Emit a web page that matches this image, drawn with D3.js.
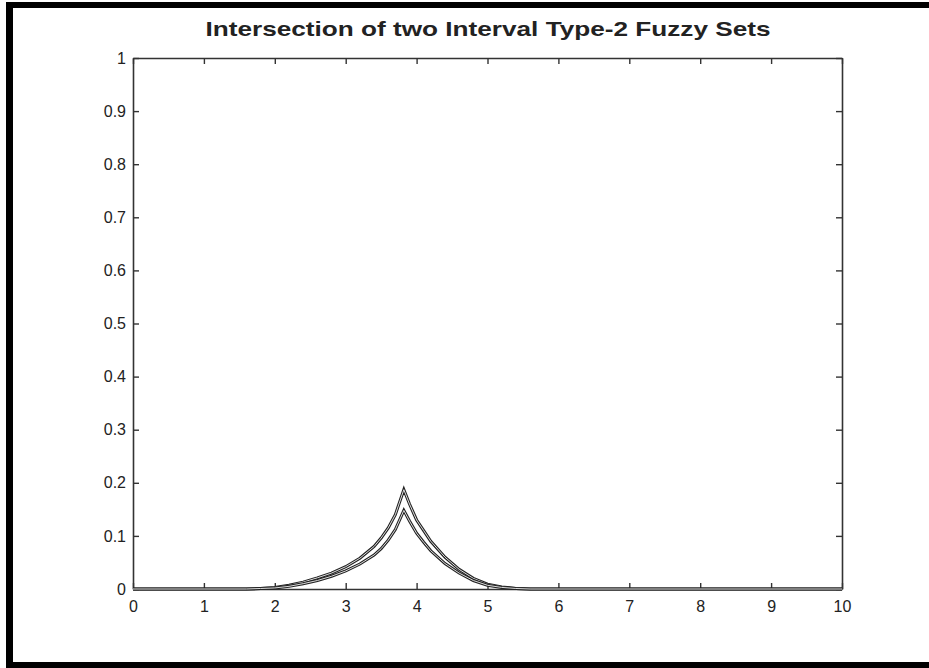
<!DOCTYPE html>
<html>
<head>
<meta charset="utf-8">
<script src="https://cdn.jsdelivr.net/npm/d3@7"></script>
<style>
  body { margin: 0; background: #fff; }
  text { font-family: "Liberation Sans", Arial, sans-serif; fill: #222; }
</style>
</head>
<body>
<div id="chart"></div>
<script>
// Values
const xs    = [0, 1.6, 1.8, 2.0, 2.2, 2.4, 2.6, 2.8, 3.0, 3.2, 3.4, 3.5, 3.6, 3.7, 3.82, 3.9, 4.0, 4.1, 4.2, 4.4, 4.6, 4.8, 5.0, 5.2, 5.4, 5.6, 10];
const upper = [0, 0, 0.001, 0.003, 0.007, 0.013, 0.021, 0.03, 0.042, 0.058, 0.08, 0.096, 0.115, 0.14, 0.187, 0.16, 0.13, 0.11, 0.09, 0.06, 0.037, 0.02, 0.009, 0.004, 0.001, 0, 0];
const lower = [0, 0, 0.001, 0.002, 0.005, 0.01, 0.016, 0.024, 0.034, 0.047, 0.064, 0.076, 0.092, 0.112, 0.148, 0.128, 0.105, 0.088, 0.072, 0.048, 0.03, 0.016, 0.007, 0.003, 0.001, 0, 0];
const xTicks = [0, 1, 2, 3, 4, 5, 6, 7, 8, 9, 10];
const yTicks = [0, 0.1, 0.2, 0.3, 0.4, 0.5, 0.6, 0.7, 0.8, 0.9, 1];
const title = 'Intersection of two Interval Type-2 Fuzzy Sets';

const W = 929, H = 668;
const margin = {top: 58, right: 87, bottom: 79, left: 133};
const width = W - margin.left - margin.right,
      height = H - margin.top - margin.bottom;

const root = d3.select('#chart').append('svg')
  .attr('width', W).attr('height', H);

// outer frame (thick black on left, top, bottom)
root.append('rect').attr('x', 6).attr('y', 2).attr('width', 7).attr('height', H - 2).attr('fill', '#000');
root.append('rect').attr('x', 6).attr('y', 2).attr('width', W - 6).attr('height', 6).attr('fill', '#000');
root.append('rect').attr('x', 6).attr('y', 662).attr('width', W - 6).attr('height', 6).attr('fill', '#000');

const svg = root.append('g').attr('transform', `translate(${margin.left},${margin.top})`);

const x = d3.scaleLinear().domain([0, 10]).range([0, width]);
const y = d3.scaleLinear().domain([0, 1]).range([height, 0]);

// axes: ticks point inward, MATLAB box style
const tl = 6;
svg.append('g').attr('class', 'x axis')
   .attr('transform', `translate(0,${height})`)
   .call(d3.axisBottom(x).tickValues(xTicks).tickFormat(d3.format('d')).tickSizeInner(-tl).tickSizeOuter(0).tickPadding(12));
svg.append('g')
   .call(d3.axisTop(x).tickValues(xTicks).tickFormat('').tickSizeInner(-tl).tickSizeOuter(0));
svg.append('g').attr('class', 'y axis')
   .call(d3.axisLeft(y).tickValues(yTicks).tickFormat(d => d === 0 || d === 1 ? d3.format('d')(d) : d3.format('.1f')(d)).tickSizeInner(-tl).tickSizeOuter(0).tickPadding(7));
svg.append('g')
   .attr('transform', `translate(${width},0)`)
   .call(d3.axisRight(y).tickValues(yTicks).tickFormat('').tickSizeInner(-tl).tickSizeOuter(0));

svg.selectAll('.domain').attr('stroke', '#333').attr('stroke-width', 1.6);
svg.selectAll('.tick line').attr('stroke', '#333').attr('stroke-width', 1.4);
svg.selectAll('.tick text').style('font-size', '16px').attr('fill', '#222');

// curves
const line = d3.line().x((d, i) => x(xs[i])).y(d => y(d)).curve(d3.curveLinear);
[upper, lower].forEach(series => {
  svg.append('path').datum(series).attr('d', line)
     .attr('fill', 'none').attr('stroke', '#222').attr('stroke-width', 3);
  svg.append('path').datum(series).attr('d', line)
     .attr('fill', 'none').attr('stroke', '#ddd').attr('stroke-width', 1);
});

// title
root.append('text')
  .attr('x', 488).attr('y', 36)
  .attr('text-anchor', 'middle')
  .attr('textLength', 565).attr('lengthAdjust', 'spacingAndGlyphs')
  .style('font-size', '21px').style('font-weight', 'bold')
  .text(title);
</script>
</body>
</html>
